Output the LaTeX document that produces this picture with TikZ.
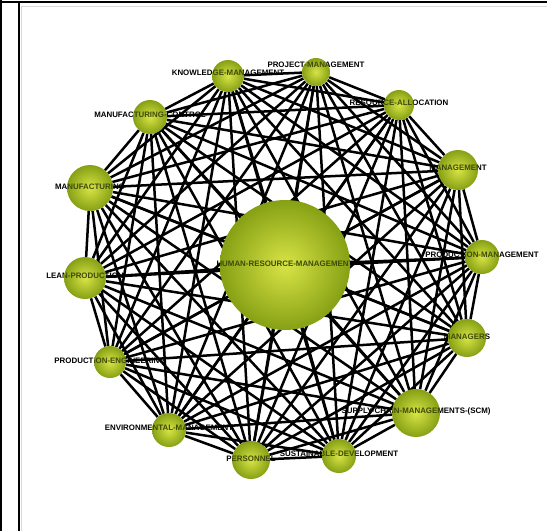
\documentclass[tikz,border=0pt]{standalone}
\usepackage{fontspec}
\setsansfont{Liberation Sans}
\usepackage{tikz}
\definecolor{ballhi}{RGB}{216,228,70}
\definecolor{balllo}{RGB}{134,160,20}
\definecolor{tagin}{RGB}{62,74,8}
\tikzset{
  hub/.style={circle, inner sep=0pt},
  ball/.style={circle, inner sep=0pt, inner color=ballhi, outer color=balllo},
  tag/.style={font=\sffamily\bfseries\fontsize{7.9}{8}\selectfont, inner sep=0pt},
  link/.style={line width=2.5pt, black},
  frame/.style={line width=2.5pt, black}
}
% name / x / y / radius / label lift / label
\def\topics{pm/316/72/14/7/PROJECT-MANAGEMENT, km/228/76/16/3/KNOWLEDGE-MANAGEMENT,
  ra/399/105/15/2/RESOURCE-ALLOCATION, mc/150/117/17/2/MANUFACTURING-CONTROL,
  mg/458/170/20/2/MANAGEMENT, mf/90/188/23/1/MANUFACTURING,
  hrm/285/265/65/1/HUMAN-RESOURCE-MANAGEMENT, prm/482/257/17/2/PRODUCTION-MANAGEMENT,
  lp/85/278/21/2/LEAN-PRODUCTION, mgr/467/338/19/1/MANAGERS,
  pe/110/362/16/1/PRODUCTION-ENGINEERING, scm/416/413/24/2/SUPPLY-CHAIN-MANAGEMENTS-(SCM),
  em/169/430/17/2/ENVIRONMENTAL-MANAGEMENT, sd/339/456/17/2/SUSTAINABLE-DEVELOPMENT,
  ps/251/460/19/1/PERSONNEL}
\def\names{pm,km,ra,mc,mg,mf,hrm,prm,lp,mgr,pe,scm,em,sd,ps}
\begin{document}
\begin{tikzpicture}[x=1pt, y=-1pt]
  \useasboundingbox (0,0) rectangle (547,531);

  % Cell frame
  \draw[frame] (1.2,0) -- (1.2,531);
  \draw[line width=1.6pt] (19,2) -- (19,531);
  \draw[frame] (0,2) -- (547,2);
  \draw[black!15] (21.5,6) -- (21.5,531);
  \draw[black!15] (21.5,6) -- (547,6);

  % Topic nodes
  \foreach \n/\x/\y/\r/\d/\t in \topics
    \node[hub, minimum size={2*\r pt}] (\n) at (\x,\y) {};

  % Links
  \foreach \a [count=\i] in \names {
    \foreach \b [count=\j] in \names {
      \ifnum\i<\j \draw[link] (\a) -- (\b); \fi
    }
  }

  % Labels
  \foreach \n/\x/\y/\r/\d/\t in \topics
    \node[tag] (\n-t) at ([yshift=\d pt]\n.center) {\t};

  % Spheres, with the label showing through
  \foreach \n/\x/\y/\r/\d/\t in \topics {
    \node[ball, minimum size={2*\r pt}] (\n-b) at (\n) {};
    \begin{scope}
      \clip (\n) circle ({\r pt});
      \node[tag, text=tagin] (\n-s) at (\n-t) {\t};
    \end{scope}
  }
\end{tikzpicture}
\end{document}
